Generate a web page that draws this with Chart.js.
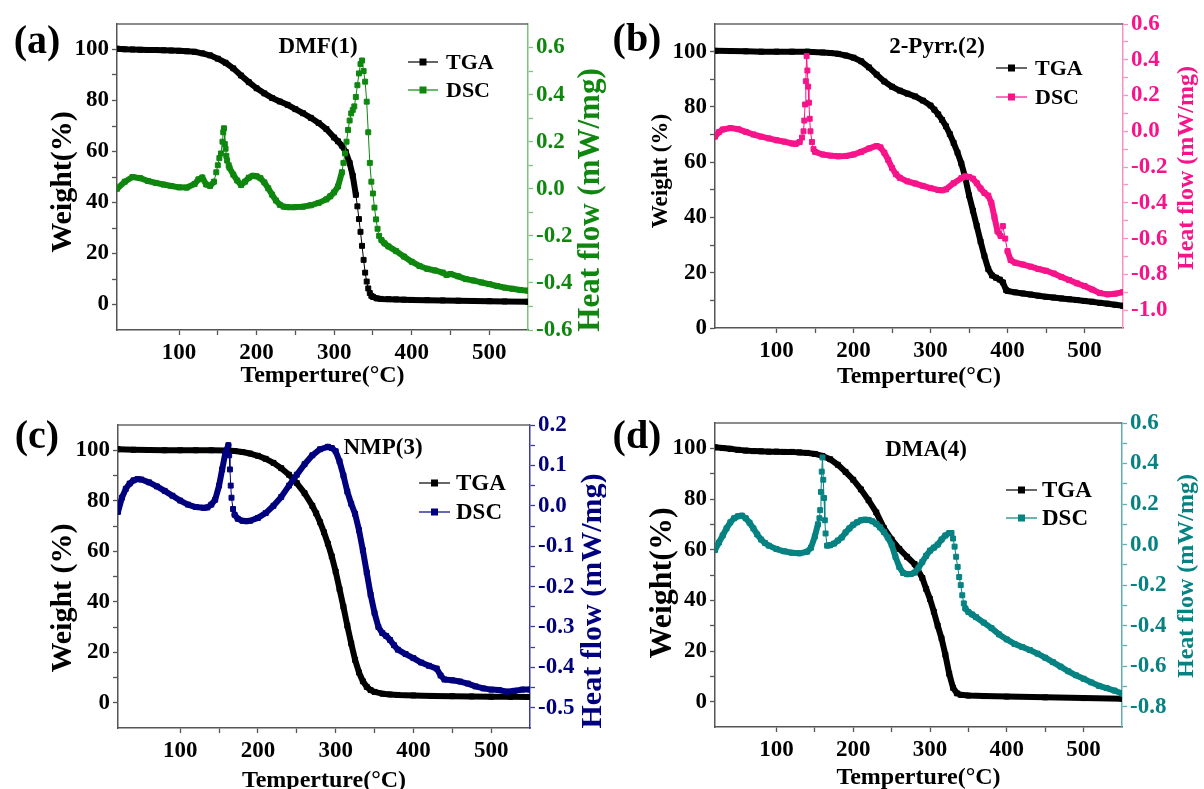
<!DOCTYPE html>
<html>
<head>
<meta charset="utf-8">
<title>TGA / DSC</title>
<script src="https://cdn.jsdelivr.net/npm/chart.js@4.4.1/dist/chart.umd.min.js"></script>
<style>
  html, body { margin: 0; padding: 0; background: #fff; width: 1204px; height: 789px; overflow: hidden; }
  body { position: relative; }
  canvas { position: absolute; }
  .tag { position: absolute; transform: translate(-50%, -50%); font-family: "Liberation Serif", "Times New Roman", serif;
         font-weight: bold; color: #000; white-space: nowrap; line-height: 1; }
</style>
</head>
<body>
<canvas id="chartA" width="606" height="395" style="left:0px;top:0px"></canvas>
<canvas id="chartB" width="604" height="395" style="left:600px;top:0px"></canvas>
<canvas id="chartC" width="606" height="405" style="left:0px;top:395px"></canvas>
<canvas id="chartD" width="604" height="405" style="left:600px;top:395px"></canvas>

<div class="tag" style="left:37px;top:40px;font-size:40px">(a)</div>
<div class="tag" style="left:637px;top:38px;font-size:40px">(b)</div>
<div class="tag" style="left:37px;top:435px;font-size:40px">(c)</div>
<div class="tag" style="left:637px;top:435px;font-size:40px">(d)</div>

<div class="tag" style="left:318px;top:45px;font-size:23px">DMF(1)</div>
<div class="tag" style="left:937px;top:45px;font-size:23px">2-Pyrr.(2)</div>
<div class="tag" style="left:383px;top:446px;font-size:23px">NMP(3)</div>
<div class="tag" style="left:926px;top:448px;font-size:23px">DMA(4)</div>

<script>
// [temperature °C, value]
// weight % (TGA) and heat flow mW/mg (DSC)
const tgaA = [[20,100.3],[30,100.1],[40,100],[50,99.9],[60,99.8],[70,99.8],[80,99.7],[90,99.6],[100,99.5],[110,99.3],[120,99.1],[130,98.5],[140,97.7],[150,96.4],[160,94.8],[170,92.6],[180,89.8],[190,87.2],[200,84.8],[210,82.8],[220,81],[230,79.6],[240,78.3],[250,76.6],[260,75],[270,73.2],[280,71.2],[290,68.8],[300,65.5],[305,64],[310,62.3],[315,59.8],[320,55.5],[324,50.5],[328,43],[330,38.5],[332,33.5],[334,28.5],[336,23],[338,17.5],[340,12.5],[342,9],[344,6.3],[346,4.5],[348,3.4],[350,3],[355,2.4],[360,2.2],[370,2.1],[380,2],[390,1.9],[400,1.8],[420,1.7],[440,1.6],[460,1.5],[480,1.4],[500,1.3],[520,1.2],[550,1.1]];
const dscA = [[20,0.0],[30,0.03],[40,0.05],[50,0.045],[60,0.033],[70,0.025],[80,0.018],[90,0.012],[100,0.006],[110,0.005],[120,0.02],[125,0.04],[130,0.048],[135,0.018],[140,0.012],[145,0.03],[148,0.07],[150,0.1],[152,0.13],[154,0.15],[156,0.2],[157,0.24],[158,0.257],[159,0.19],[160,0.17],[161,0.14],[162,0.12],[164,0.1],[165,0.09],[170,0.06],[175,0.035],[180,0.016],[185,0.03],[190,0.047],[195,0.055],[200,0.053],[205,0.045],[210,0.027],[215,0.002],[220,-0.025],[225,-0.05],[230,-0.068],[235,-0.076],[240,-0.078],[250,-0.078],[260,-0.076],[270,-0.07],[280,-0.06],[290,-0.045],[295,-0.032],[300,-0.015],[305,0.01],[310,0.07],[312,0.11],[314,0.15],[316,0.2],[318,0.25],[320,0.29],[322,0.32],[324,0.335],[326,0.35],[328,0.39],[330,0.44],[332,0.49],[334,0.53],[336,0.545],[338,0.5],[340,0.455],[342,0.37],[344,0.24],[346,0.11],[348,0.03],[350,-0.02],[352,-0.08],[354,-0.13],[356,-0.17],[358,-0.2],[361,-0.218],[365,-0.232],[370,-0.245],[380,-0.265],[390,-0.288],[400,-0.31],[410,-0.328],[420,-0.34],[430,-0.347],[440,-0.356],[445,-0.366],[450,-0.362],[460,-0.372],[470,-0.384],[480,-0.39],[490,-0.398],[500,-0.405],[510,-0.413],[520,-0.42],[530,-0.425],[540,-0.43],[550,-0.433]];

const tgaB = [[20,100.3],[40,100.2],[60,100.1],[80,100],[100,100],[120,100],[140,100],[160,99.7],[170,99.5],[180,99.2],[190,98.6],[200,97.8],[210,96.5],[220,94.3],[230,91.7],[240,89.2],[250,87.3],[260,85.9],[270,84.8],[280,83.8],[290,82.3],[300,80.5],[305,79],[310,77.3],[315,75.3],[320,73],[325,70.2],[330,67],[335,63.5],[340,59.5],[345,54.5],[350,48],[355,42.5],[360,37],[365,31.3],[370,26],[375,21.3],[380,19],[385,18.2],[390,17.5],[394,16.5],[398,13.8],[400,13.4],[410,12.9],[420,12.5],[430,12.1],[440,11.7],[450,11.3],[460,11],[470,10.7],[480,10.4],[490,10.1],[500,9.8],[510,9.5],[520,9.1],[530,8.8],[540,8.4],[550,8.0]];
const dscB = [[20,-0.03],[25,-0.005],[30,0.01],[40,0.018],[50,0.012],[60,-0.003],[70,-0.018],[80,-0.03],[90,-0.04],[100,-0.05],[110,-0.058],[120,-0.068],[125,-0.07],[130,-0.06],[133,-0.035],[135,0.0],[136,0.06],[137,0.15],[138,0.28],[139,0.42],[140,0.34],[141,0.25],[142,0.16],[143,0.07],[144,0.0],[146,-0.06],[148,-0.1],[150,-0.115],[160,-0.13],[170,-0.136],[180,-0.14],[190,-0.138],[200,-0.13],[210,-0.115],[220,-0.096],[230,-0.082],[235,-0.09],[240,-0.12],[245,-0.16],[250,-0.205],[255,-0.24],[260,-0.26],[270,-0.28],[280,-0.292],[290,-0.305],[300,-0.318],[310,-0.328],[315,-0.33],[320,-0.325],[330,-0.29],[340,-0.262],[345,-0.252],[350,-0.255],[355,-0.265],[360,-0.29],[365,-0.32],[370,-0.345],[375,-0.36],[379,-0.4],[383,-0.48],[387,-0.56],[391,-0.585],[394,-0.53],[397,-0.6],[400,-0.67],[404,-0.72],[410,-0.735],[420,-0.745],[430,-0.757],[440,-0.77],[450,-0.78],[460,-0.795],[470,-0.815],[480,-0.832],[490,-0.85],[500,-0.865],[510,-0.885],[520,-0.905],[530,-0.912],[540,-0.908],[550,-0.9]];

const tgaC = [[20,100.4],[40,100.2],[60,100.1],[80,100],[100,100],[120,100],[140,100],[160,99.9],[170,99.7],[180,99.3],[190,98.7],[200,97.8],[210,96.6],[220,95],[230,92.9],[240,90.3],[250,87],[260,83],[270,78],[275,75],[280,71.5],[285,67.5],[290,63],[295,58],[300,52],[305,45],[310,38],[315,30.5],[320,23.5],[325,17],[330,12],[335,8.5],[340,6.3],[345,5],[350,4.3],[360,3.6],[370,3.3],[380,3.1],[400,2.9],[425,2.7],[450,2.6],[475,2.5],[500,2.4],[525,2.35],[550,2.3]];
const dscC = [[20,-0.015],[25,0.02],[30,0.042],[35,0.055],[40,0.063],[45,0.066],[50,0.065],[60,0.058],[70,0.048],[80,0.037],[90,0.025],[100,0.013],[110,0.003],[120,-0.003],[130,-0.005],[135,-0.004],[140,0.003],[145,0.015],[150,0.05],[154,0.09],[158,0.13],[162,0.15],[163,0.125],[164,0.09],[165,0.05],[166,0.02],[168,-0.008],[170,-0.022],[174,-0.032],[180,-0.037],[185,-0.038],[190,-0.037],[200,-0.03],[210,-0.018],[220,0.0],[230,0.022],[240,0.05],[250,0.077],[260,0.103],[270,0.125],[280,0.14],[290,0.146],[295,0.143],[300,0.135],[305,0.11],[310,0.075],[315,0.035],[320,0.005],[325,-0.02],[330,-0.06],[335,-0.11],[340,-0.165],[345,-0.22],[350,-0.265],[355,-0.3],[360,-0.315],[365,-0.322],[370,-0.332],[375,-0.345],[380,-0.356],[390,-0.367],[400,-0.377],[410,-0.388],[420,-0.396],[430,-0.403],[435,-0.42],[440,-0.43],[450,-0.432],[460,-0.435],[470,-0.44],[480,-0.447],[490,-0.452],[500,-0.455],[510,-0.456],[520,-0.46],[530,-0.458],[540,-0.455],[550,-0.455]];

const tgaD = [[20,100.4],[30,100.1],[40,99.8],[50,99.4],[60,99.1],[70,98.9],[80,98.8],[90,98.7],[100,98.7],[110,98.6],[120,98.6],[130,98.4],[140,98.2],[150,97.8],[160,97],[170,95.7],[180,93.5],[190,90.7],[200,87.6],[210,83.8],[220,79.5],[230,74.7],[240,68.5],[250,64],[260,60.3],[270,57.2],[280,54.3],[290,48.8],[295,44.5],[300,40.5],[305,35.5],[310,30],[315,25],[320,18.5],[325,11],[330,5.5],[335,3.3],[340,2.7],[350,2.4],[370,2.2],[400,2.0],[450,1.7],[500,1.4],[550,1.2]];
const dscD = [[20,-0.027],[25,0.01],[30,0.045],[35,0.08],[40,0.11],[45,0.13],[50,0.14],[55,0.143],[60,0.13],[65,0.108],[70,0.08],[75,0.05],[80,0.025],[85,0.008],[90,-0.005],[100,-0.022],[110,-0.033],[120,-0.04],[130,-0.043],[140,-0.035],[145,-0.015],[150,0.04],[154,0.1],[156,0.13],[157,0.17],[158,0.26],[159,0.36],[160,0.43],[161,0.32],[162,0.23],[163,0.12],[164,0.055],[166,-0.005],[170,-0.003],[175,0.005],[180,0.02],[185,0.035],[190,0.06],[195,0.08],[200,0.098],[205,0.11],[210,0.12],[215,0.123],[220,0.122],[225,0.115],[230,0.103],[235,0.085],[240,0.062],[245,0.035],[250,0.0],[255,-0.06],[260,-0.11],[265,-0.14],[270,-0.146],[275,-0.145],[280,-0.138],[285,-0.115],[290,-0.085],[295,-0.055],[300,-0.03],[305,-0.015],[310,0.0],[315,0.025],[320,0.045],[325,0.057],[328,0.057],[330,0.03],[332,-0.01],[334,-0.06],[336,-0.11],[338,-0.16],[340,-0.2],[342,-0.25],[344,-0.29],[346,-0.315],[350,-0.333],[355,-0.345],[360,-0.358],[370,-0.385],[380,-0.412],[390,-0.443],[400,-0.468],[410,-0.49],[420,-0.505],[430,-0.52],[440,-0.538],[450,-0.558],[460,-0.58],[470,-0.602],[480,-0.625],[490,-0.645],[500,-0.662],[510,-0.68],[520,-0.697],[530,-0.708],[540,-0.72],[550,-0.735]];

const seriesNames = ['TGA', 'DSC'];
const xTitle = 'Temperture(°C)';
const hTitle = 'Heat flow (mW/mg)';

const SERIF = '"Liberation Serif", "Times New Roman", serif';
Chart.defaults.font.family = SERIF;

// frame line on top, rotated side titles and the in-plot legend
const panelDecor = {
  id: 'panelDecor',
  beforeDatasetsDraw(chart, args, o) {
    const a = chart.chartArea, ctx = chart.ctx;
    ctx.save();
    ctx.strokeStyle = '#666';
    ctx.lineWidth = 1.5;
    ctx.beginPath();
    ctx.moveTo(a.left, a.top);
    ctx.lineTo(a.right, a.top);
    ctx.stroke();
    ctx.restore();
  },
  afterDraw(chart, args, o) {
    const ctx = chart.ctx;
    const vtext = (t) => {
      ctx.save();
      ctx.translate(t.x, t.y);
      ctx.rotate(-Math.PI / 2);
      ctx.font = 'bold ' + t.size + 'px ' + SERIF;
      ctx.fillStyle = t.color;
      ctx.textAlign = 'center';
      ctx.textBaseline = 'middle';
      ctx.fillText(t.text, 0, 0);
      ctx.restore();
    };
    vtext(o.left);
    vtext(o.right);

    const lg = o.legend;
    ctx.save();
    ctx.font = 'bold ' + lg.size + 'px ' + SERIF;
    ctx.textBaseline = 'middle';
    ctx.textAlign = 'left';
    chart.data.datasets.forEach((ds, i) => {
      const y = lg.ys[i];
      const mid = (lg.x0 + lg.x1) / 2;
      ctx.strokeStyle = ds.borderColor;
      ctx.lineWidth = 1.2;
      ctx.beginPath();
      ctx.moveTo(lg.x0, y);
      ctx.lineTo(lg.x1, y);
      ctx.stroke();
      ctx.fillStyle = ds.borderColor;
      ctx.fillRect(mid - 3.5, y - 3.5, 7, 7);
      ctx.fillStyle = '#000';
      ctx.fillText(ds.label, lg.tx, y + 1);
    });
    ctx.restore();
  }
};

function toXY(pairs) {
  return pairs.map(p => ({ x: p[0], y: p[1] }));
}

// dense stretches read as a thick band of squares, sparse ones as squares on a thin line
const seriesStyle = {
  borderWidth: 6,
  borderCapStyle: 'round',
  borderJoinStyle: 'round',
  pointStyle: 'rect',
  pointRadius: 3.5,
  pointHoverRadius: 3.5,
  pointBorderWidth: 1,
  tension: 0,
  segment: {
    borderWidth: c => (c.p1.parsed.x - c.p0.parsed.x) < 3.5 ? 1 : 6
  }
};

function buildChart(p) {
  const tickFont = { family: SERIF, size: 23, weight: 'bold' };
  const isLabel = (v, step) => { const k = v / step; return Math.abs(k - Math.round(k)) < 1e-6; };

  return new Chart(document.getElementById(p.id), {
    type: 'line',
    data: {
      datasets: [
        Object.assign({ label: seriesNames[0], data: toXY(p.tga), yAxisID: 'y', borderColor: '#000', backgroundColor: '#000', order: 2 }, seriesStyle),
        Object.assign({ label: seriesNames[1], data: toXY(p.dsc), yAxisID: 'y1', borderColor: p.color, backgroundColor: p.color, order: 1 }, seriesStyle)
      ]
    },
    options: {
      responsive: false,
      animation: false,
      devicePixelRatio: 1,
      events: [],
      layout: { padding: { left: 0, right: 0, top: p.top, bottom: 0 } },
      plugins: {
        legend: { display: false },
        tooltip: { enabled: false },
        panelDecor: {
          left: { text: p.wTitle, x: p.wx, y: p.wy, size: p.wSize, color: '#000' },
          right: { text: hTitle, x: p.hx, y: p.hy, size: p.hSize, color: p.color },
          legend: p.legend
        }
      },
      scales: {
        x: {
          type: 'linear', position: 'bottom', min: 20, max: 550,
          afterBuildTicks: s => { s.ticks = s.ticks.filter(t => t.value > 20 && t.value < 550); },
          afterFit: s => { s.height = p.bottomH; },
          ticks: { stepSize: 50, autoSkip: false, maxRotation: 0, padding: 4, color: '#000', font: tickFont,
                   callback: v => (v % 100 === 0 ? String(v) : '') },
          grid: { drawOnChartArea: false, drawTicks: true, tickLength: 5, tickColor: '#555', tickWidth: 1.3 },
          border: { display: true, color: '#555', width: 1.5 },
          title: { display: true, text: xTitle, color: '#000', font: { family: SERIF, size: 24, weight: 'bold' },
                   padding: { top: 0, bottom: p.xPad } }
        },
        y: {
          type: 'linear', position: 'left', min: p.wMin, max: 110,
          afterBuildTicks: s => { s.ticks = s.ticks.filter(t => t.value >= 0 && t.value <= 100); },
          afterFit: s => { s.width = p.leftW; },
          ticks: { stepSize: 10, autoSkip: false, padding: 3, color: '#000', font: tickFont,
                   callback: v => (v % 20 === 0 ? String(v) : '') },
          grid: { drawOnChartArea: false, drawTicks: true, tickLength: 5, tickColor: '#555', tickWidth: 1.3 },
          border: { display: true, color: '#555', width: 1.5 },
          title: { display: false }
        },
        y1: {
          type: 'linear', position: 'right', min: p.hMin, max: p.hMax,
          afterBuildTicks: s => { s.ticks = s.ticks.filter(t => t.value > p.hLo - 1e-6 && t.value < p.hHi + 1e-6); },
          afterFit: s => { s.width = p.rightW; },
          ticks: { stepSize: p.hStep, autoSkip: false, padding: 3, color: p.color, font: tickFont,
                   callback: v => (isLabel(v, p.hLabel) ? (Math.round(v * 10) / 10).toFixed(1) : '') },
          grid: { drawOnChartArea: false, drawTicks: true, tickLength: 5, tickColor: p.axisColor, tickWidth: 1.3 },
          border: { display: true, color: p.axisColor, width: 1.5 },
          title: { display: false }
        }
      }
    },
    plugins: [panelDecor]
  });
}

buildChart({
  id: 'chartA', tga: tgaA, dsc: dscA, color: '#0f870f', axisColor: '#7fc07f',
  wMin: -10, hMin: -0.6, hMax: 0.7, hStep: 0.1, hLabel: 0.2, hLo: -0.6, hHi: 0.6,
  top: 24, leftW: 117, rightW: 78, bottomH: 65, xPad: 4.6,
  wTitle: 'Weight(%)', wx: 63, wy: 182, wSize: 30,
  hx: 591, hy: 200, hSize: 31,
  legend: { x0: 408, x1: 438, tx: 446, ys: [62, 90], size: 22 }
});

buildChart({
  id: 'chartB', tga: tgaB, dsc: dscB, color: '#f7148a', axisColor: '#f592c2',
  wMin: 0, hMin: -1.1, hMax: 0.6, hStep: 0.1, hLabel: 0.2, hLo: -1.0, hHi: 0.6,
  top: 24, leftW: 115, rightW: 81, bottomH: 67, xPad: 3.6,
  wTitle: 'Weight (%)', wx: 61, wy: 171, wSize: 23,
  hx: 587, hy: 168, hSize: 24,
  legend: { x0: 396, x1: 427, tx: 435, ys: [68, 97], size: 22 }
});

buildChart({
  id: 'chartC', tga: tgaC, dsc: dscC, color: '#00007f', axisColor: '#3c3c9c',
  wMin: -10, hMin: -0.55, hMax: 0.2, hStep: 0.05, hLabel: 0.1, hLo: -0.5, hHi: 0.2,
  top: 30, leftW: 118, rightW: 76, bottomH: 72, xPad: 4.6,
  wTitle: 'Weight (%)', wx: 63, wy: 203, wSize: 30,
  hx: 593, hy: 206, hSize: 30,
  legend: { x0: 419, x1: 450, tx: 456, ys: [88, 117], size: 23 }
});

buildChart({
  id: 'chartD', tga: tgaD, dsc: dscD, color: '#068282', axisColor: '#5cb0b0',
  wMin: -10, hMin: -0.9, hMax: 0.6, hStep: 0.1, hLabel: 0.2, hLo: -0.8, hHi: 0.6,
  top: 28, leftW: 115, rightW: 82, bottomH: 73, xPad: 7.6,
  wTitle: 'Weight(%)', wx: 63, wy: 188, wSize: 32,
  hx: 587, hy: 181, hSize: 24,
  legend: { x0: 406, x1: 437, tx: 442, ys: [95, 123], size: 23 }
});
</script>
</body>
</html>
